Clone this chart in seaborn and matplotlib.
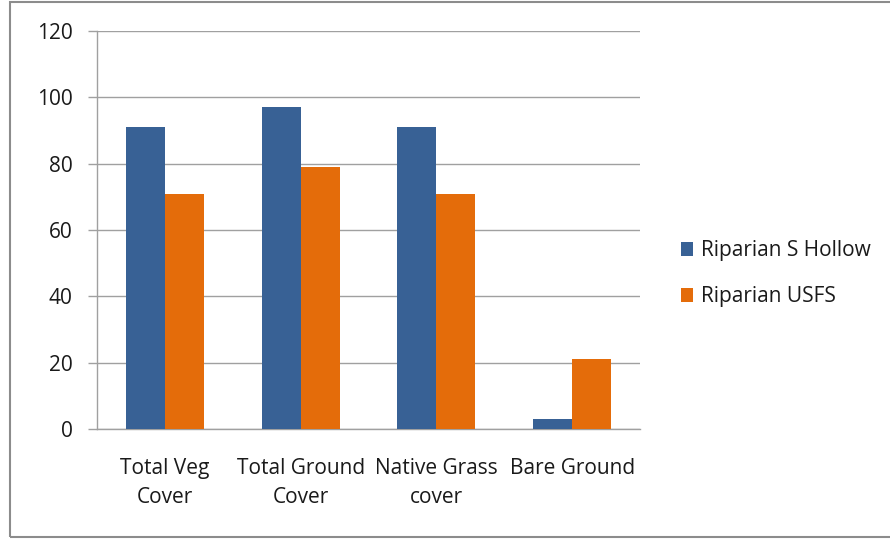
import pandas as pd
import numpy as np
import matplotlib
matplotlib.use("Agg")
import matplotlib.pyplot as plt
import seaborn as sns
from matplotlib.patches import Rectangle

categories = ["Total Veg\nCover", "Total Ground\nCover", "Native Grass\ncover", "Bare Ground"]
s_hollow = [91, 97, 91, 3]
usfs = [71, 79, 71, 21]
series_names = ["Riparian S Hollow", "Riparian USFS"]
colors = ["#386195", "#E46C0A"]

df = pd.DataFrame({
    "category": categories * 2,
    "value": s_hollow + usfs,
    "series": [series_names[0]] * 4 + [series_names[1]] * 4,
})

sns.set_style("white")
plt.rcParams["font.family"] = ["Open Sans", "DejaVu Sans"]

fig = plt.figure(figsize=(8.9, 5.39), dpi=100)
ax = fig.add_axes([97 / 890, 1 - 429 / 539, (640 - 97) / 890, (429 - 31) / 539])

sns.barplot(data=df, x="category", y="value", hue="series", palette=colors,
            width=0.575, saturation=1, ax=ax, edgecolor="none", zorder=3)

grid_col = "#A0A0A0"
txt_col = "#1A1A1A"
ax.set_ylim(0, 120)
ax.set_xlim(-0.5, 3.5)
ax.set_yticks(np.arange(0, 121, 20))
ax.yaxis.grid(True, color=grid_col, lw=1, zorder=0)
ax.set_axisbelow(True)
for s in ["top", "right"]:
    ax.spines[s].set_visible(False)
for s in ["left", "bottom"]:
    ax.spines[s].set_color(grid_col)
    ax.spines[s].set_linewidth(1)

ax.set_xticks(range(4))
ax.set_xticklabels(categories, fontsize=15, color=txt_col, linespacing=1.5)
ax.set_xticks(np.arange(-0.5, 4, 1), minor=True)
ax.tick_params(axis="x", which="major", length=0, pad=21)
ax.tick_params(axis="x", which="minor", length=5, color=grid_col, width=1)
ax.tick_params(axis="y", length=6.5, color=grid_col, width=1, pad=11,
               labelsize=15, labelcolor=txt_col, left=True)
ax.set_xlabel("")
ax.set_ylabel("")

ax.legend(loc="center left", bbox_to_anchor=(1.0755, 0.39), frameon=False,
          fontsize=15, handlelength=0.6, handleheight=0.6, labelspacing=1.2,
          handletextpad=0.35, borderpad=0, borderaxespad=0, labelcolor=txt_col)

fig.patches.append(Rectangle((10 / 890, 2 / 539), 1, 535 / 539, transform=fig.transFigure,
                             fill=False, edgecolor="#8C8C8C", lw=1.5))

fig.savefig("out.png", dpi=100)
